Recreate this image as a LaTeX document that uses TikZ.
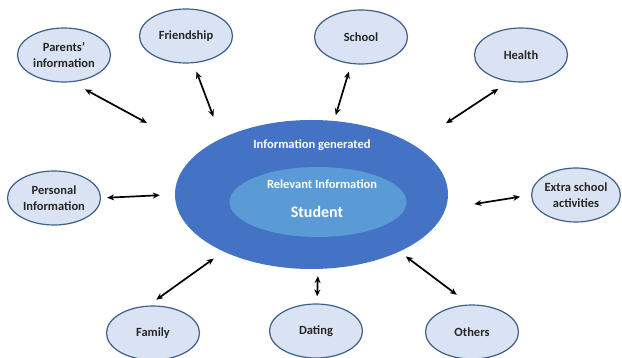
\documentclass[tikz,border=0pt]{standalone}
\usepackage{fontspec}
\setmainfont{Carlito}
\usepackage{tikz}
\usetikzlibrary{arrows.meta,shapes.geometric}
\definecolor{outerblue}{HTML}{4472C4}
\definecolor{innerblue}{HTML}{5B9BD5}
\definecolor{satfill}{HTML}{DAE3F3}
\definecolor{satdraw}{HTML}{3E5F8A}
\definecolor{sattext}{HTML}{262626}

\begin{document}
\begin{tikzpicture}[x=1pt,y=-1pt,
    sat/.style={ellipse,draw=satdraw,fill=satfill,line width=1.2pt,minimum width=93pt,minimum height=54pt,inner sep=0pt,align=center,text=sattext,font=\fontsize{12.5}{16}\selectfont\bfseries},
    wtxt/.style={text=white,font=\fontsize{12.5}{15}\selectfont\bfseries},
    link/.style={{Stealth[length=7pt,width=6pt]}-{Stealth[length=7pt,width=6pt]},line width=1.7pt,black}]
    \useasboundingbox (0,0) rectangle (622,358);
    % centre
    \node[ellipse,fill=outerblue,minimum width=273pt,minimum height=149pt,inner sep=0pt] (gen) at (311.5,194.5) {};
    \node[ellipse,fill=innerblue,minimum width=177pt,minimum height=70pt,inner sep=0pt] (rel) at (318,202) {};
    \node[wtxt] (gentxt) at (312,145) {Information generated};
    \node[wtxt] (reltxt) at (322,184) {Relevant Information};
    \node[wtxt,font=\fontsize{16}{19}\selectfont\bfseries] (stud) at (317,212) {Student};
    % satellites
    \node[sat] (par) at (64,55) {Parents'\\information};
    \node[sat] (fri) at (186,36) {Friendship};
    \node[sat] (sch) at (361,37) {School};
    \node[sat] (hea) at (521,55) {Health};
    \node[sat] (per) at (54,198) {Personal\\Information};
    \node[sat,minimum width=88pt] (ext) at (576,195) {Extra school\\activities};
    \node[sat] (fam) at (153,333) {Family};
    \node[sat] (dat) at (316,331) {Dating};
    \node[sat] (oth) at (472,332) {Others};
    % links
    \draw[link,shorten <=15pt,shorten >=60pt] (par.-74) -- (gen.159);
    \draw[link,shorten <=9pt,shorten >=23pt] (fri.-75) -- (gen.148);
    \draw[link,shorten <=8pt,shorten >=6pt] (sch.-110) -- (gen.73);
    \draw[link,shorten <=13pt,shorten >=39pt] (hea.-114) -- (gen.26);
    \draw[link,shorten <=6pt,shorten >=15pt] (per.east) -- (gen.west);
    \draw[link,shorten <=11pt,shorten >=29pt] (ext.west) -- (gen.-6);
    \draw[link,shorten <=10pt,shorten >=12pt] (fam.100) -- (gen.-147);
    \draw[link,shorten <=7pt,shorten >=7pt] (dat.88) -- (gen.-85);
    \draw[link,shorten <=16pt,shorten >=8pt] (oth.95) -- (gen.-33);
\end{tikzpicture}
\end{document}
